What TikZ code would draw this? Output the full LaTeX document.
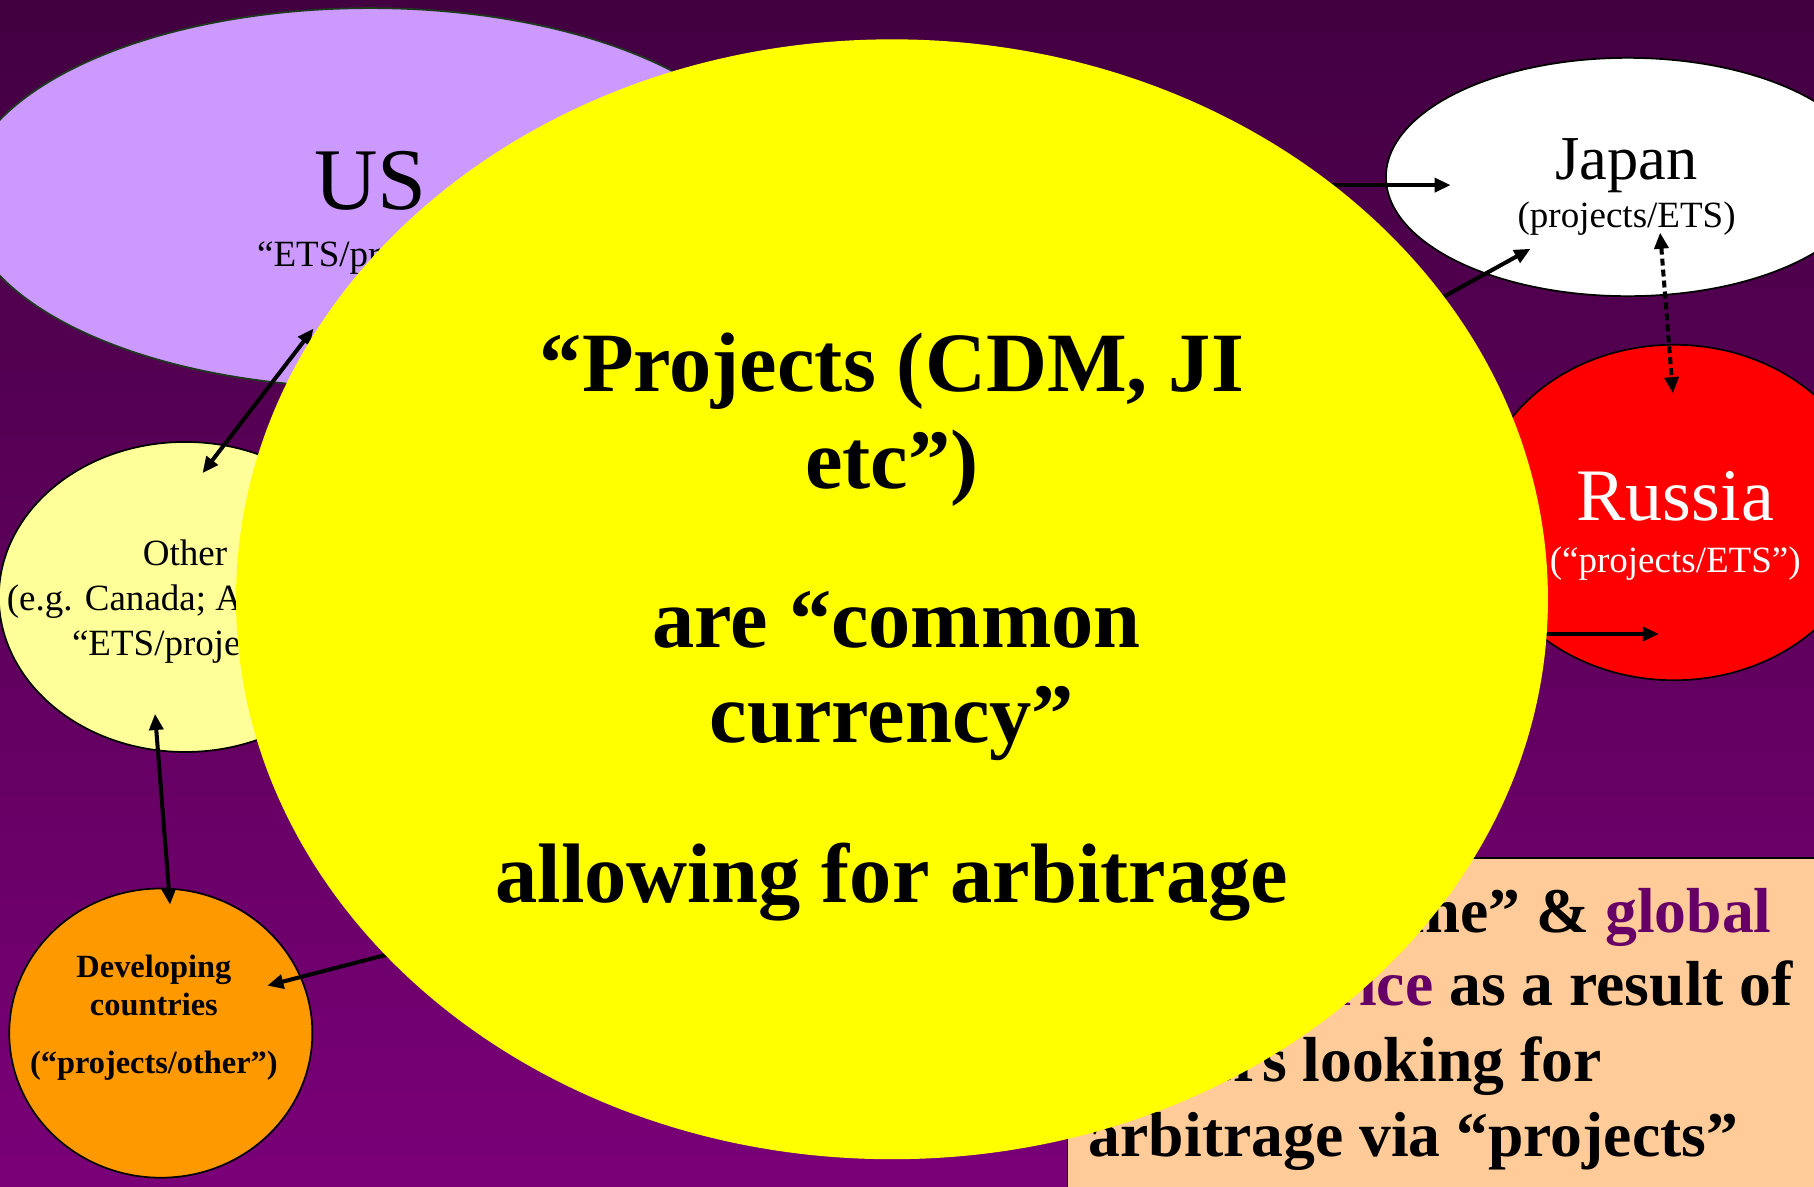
\documentclass[tikz,border=0pt]{standalone}
\usepackage{fontspec}
\setmainfont{Liberation Serif}
\usetikzlibrary{shapes.geometric,arrows.meta}
\definecolor{bgtop}{HTML}{420040}
\definecolor{bgbot}{HTML}{7A0078}
\definecolor{lav}{HTML}{CC99FF}
\definecolor{paleyel}{HTML}{FFFF99}
\definecolor{orng}{HTML}{FF9900}
\definecolor{peach}{HTML}{FFCC99}
\definecolor{tpurple}{HTML}{660066}
\definecolor{usedge}{HTML}{1E3B1E}
\definecolor{bigyel}{RGB}{255,255,0}
\definecolor{rusred}{RGB}{255,0,0}
\newcommand{\fsz}[1]{\fontsize{#1}{#1}\selectfont}
\begin{document}
\begin{tikzpicture}[x=1pt,y=-1pt,
  blob/.style={ellipse, draw=black, line width=1.5pt, inner sep=0pt},
  conn/.style={line width=3.5pt, -{Triangle[length=14pt,width=12pt]}},
  conntwo/.style={line width=3.5pt, {Triangle[length=14pt,width=12pt]}-{Triangle[length=14pt,width=12pt]}},
  txt/.style={inner sep=0pt, anchor=base},
  boxtxt/.style={inner sep=0pt, anchor=base west, font=\fsz{55}\bfseries},
  bigtxt/.style={inner sep=0pt, anchor=base, font=\fsz{73}\bfseries},
]
\useasboundingbox (0,0) rectangle (1568,1026);
\clip (0,0) rectangle (1568,1026);
\shade[top color=bgtop, bottom color=bgbot] (0,0) rectangle (1568,1026);

% country ellipses
\node[blob, draw=usedge, fill=lav, minimum width=702pt, minimum height=328pt] (us) at (320,171) {};
\node[blob, fill=paleyel, minimum width=322pt, minimum height=268pt] (other) at (160,516) {};
\node[blob, fill=orng, minimum width=262pt, minimum height=250pt] (dev) at (139,893) {};
\node[blob, fill=white, minimum width=418pt, minimum height=206pt] (japan) at (1407,153) {};
\node[blob, fill=rusred, minimum width=340pt, minimum height=290pt] (russia) at (1447,443) {};

% texts in ellipses
\node[txt, font=\fsz{76}] (ustitle) at (320,181) {US};
\node[txt, font=\fsz{32}] (ussub) at (320,230) {“ETS/projects”};
\node[txt, font=\fsz{32}] (oth1) at (160,489) {Other};
\node[txt, font=\fsz{32}] (oth2) at (160,528) {(e.g. Canada; Australia)};
\node[txt, font=\fsz{32}] (oth3) at (160,567) {“ETS/projects”};
\node[txt, font=\fsz{28}\bfseries] (dev1) at (133,845) {Developing};
\node[txt, font=\fsz{28}\bfseries] (dev2) at (133,878) {countries};
\node[txt, font=\fsz{28}\bfseries] (dev3) at (133,928) {(“projects/other”)};
\node[txt, font=\fsz{54}] (jap1) at (1406,155) {Japan};
\node[txt, font=\fsz{32}] (jap2) at (1406,197) {(projects/ETS)};
\node[txt, font=\fsz{64}, text=white] (rus1) at (1448,450) {Russia};
\node[txt, font=\fsz{32}, text=white] (rus2) at (1448,495) {(“projects/ETS”)};

% bottom right box
\node[draw=black, line width=1.5pt, fill=peach, minimum width=653pt, minimum height=294pt, inner sep=0pt, anchor=north west] (box) at (922,741) {};
\node[boxtxt] (b1) at (941,806) {“Single regime” \& {\color{tpurple}global}};
\node[boxtxt] (b2) at (941,869) {{\color{tpurple}carbon price} as a result of};
\node[boxtxt] (b3) at (941,935) {traders looking for};
\node[boxtxt] (b4) at (941,1000) {arbitrage via “projects”};

% connector end points
\coordinate (cj1) at (1100,160);
\coordinate (tj1) at (1254,160);
\coordinate (cj2) at (1171,299);
\coordinate (tj2) at (1323,215);
\coordinate (jr1) at (1435,201);
\coordinate (jr2) at (1446,340);
\coordinate (cr) at (1300,548);
\coordinate (tr) at (1434,548);
\coordinate (uo1) at (271,284);
\coordinate (uo2) at (175,409);
\coordinate (od1) at (134,617);
\coordinate (od2) at (147,782);
\coordinate (cd) at (420,803);
\coordinate (td) at (231,852);

\draw[conn] (cj1) -- (tj1);
\draw[conn] (cj2) -- (tj2);
\draw[conntwo, dash pattern=on 6pt off 3.5pt] (jr1) -- (jr2);
\draw[conn] (cr) -- (tr);
\draw[conntwo] (uo1) -- (uo2);
\draw[conntwo] (od1) -- (od2);
\draw[conn] (cd) -- (td);

% central yellow ellipse
\node[ellipse, fill=bigyel, inner sep=0pt, minimum width=1134pt, minimum height=968pt] (yel) at (771,518) {};
\node[bigtxt] (c1) at (771,338) {“Projects (CDM, JI};
\node[bigtxt] (c2) at (771,422) {etc”)};
\node[bigtxt] (c3) at (775,560) {are “common};
\node[bigtxt] (c4) at (771,642) {currency”};
\node[bigtxt] (c5) at (771,780) {allowing for arbitrage};
\end{tikzpicture}
\end{document}
